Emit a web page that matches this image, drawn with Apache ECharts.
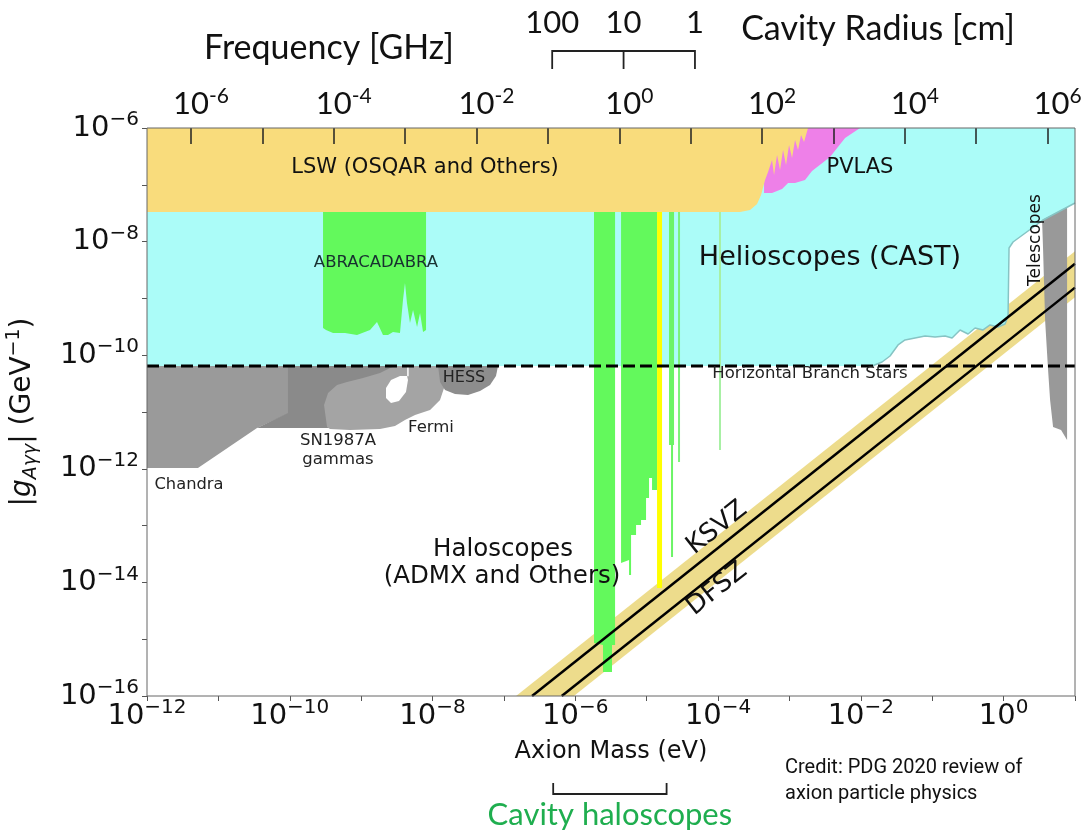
<!DOCTYPE html>
<html><head><meta charset="utf-8">
<script src="https://cdn.jsdelivr.net/npm/echarts@6/dist/echarts.min.js"></script>
<style>html,body{margin:0;padding:0;background:#fff}#c{width:1084px;height:833px}</style>
</head><body><div id="c"></div><script>
// ================= DATA =================
// Axis tick / label values
const massTickValues = [1e-12,1e-11,1e-10,1e-9,1e-8,1e-7,1e-6,1e-5,1e-4,1e-3,1e-2,1e-1,1,10];
const massLabelValues = [1e-12,1e-10,1e-8,1e-6,1e-4,1e-2,1];
const couplingTickValues = [1e-16,1e-15,1e-14,1e-13,1e-12,1e-11,1e-10,1e-9,1e-8,1e-7,1e-6];
const couplingLabelValues = [1e-16,1e-14,1e-12,1e-10,1e-8,1e-6];
const freqTickValues = [1e-6,1e-5,1e-4,1e-3,1e-2,1e-1,1,10,100,1e3,1e4,1e5,1e6];
const freqLabelValues = [1e-6,1e-4,1e-2,1,1e2,1e4,1e6];
const GHZ_PER_EV = 2.418e5;          // photon frequency of 1 eV, in GHz
const RADIUS_TO_GHZ = 11.47;         // TM010 cavity: f[GHz] = 11.47 / r[cm]
const cavityRadiusCm = [100, 10, 1];
const cavityHaloscopeMass = [4.9e-7, 1.9e-5];

// Regions: points as [log10(mass / eV), log10(|g| / GeV^-1)]
const castLimit = [[1,-7.32],[0.553,-7.62],[0.132,-8.007],[0.076,-8.113],[0.062,-9.31],[0.02,-9.451],[-0.078,-9.504],[-0.19,-9.468],[-0.288,-9.556],[-0.4,-9.521],[-0.498,-9.627],[-0.61,-9.556],[-0.722,-9.697],[-0.82,-9.662],[-0.96,-9.68],[-1.1,-9.662],[-1.241,-9.697],[-1.381,-9.732],[-1.479,-9.82],[-1.591,-10.014],[-1.703,-10.12],[-1.843,-10.19],[-12,-10.19]];
const lswLimit = [[-12,-7.479],[-3.692,-7.479],[-3.552,-7.444],[-3.454,-7.338],[-3.398,-7.18],[-3.342,-6.915],[-3.3,-6.775],[-3.244,-6.563],[-3.216,-6.827],[-3.174,-6.475],[-3.132,-6.739],[-3.09,-6.387],[-3.048,-6.651],[-3.006,-6.299],[-2.964,-6.528],[-2.922,-6.211],[-2.88,-6.387],[-2.838,-6.123],[-2.796,-6.246],[-2.74,-6]];
const pvlas = [[-3.356,-6],[-2.011,-6],[-2.221,-6.176],[-2.432,-6.511],[-2.684,-6.757],[-2.782,-6.915],[-2.922,-6.968],[-3.02,-6.968],[-3.104,-7.074],[-3.244,-7.144],[-3.356,-7.144]];
const abracadabra = [[-9.534,-7.27],[-8.091,-7.27],[-8.091,-9.556],[-8.133,-9.592],[-8.175,-9.257],[-8.217,-9.504],[-8.273,-9.204],[-8.316,-9.433],[-8.358,-9.081],[-8.386,-8.729],[-8.414,-9.028],[-8.456,-9.609],[-8.554,-9.592],[-8.624,-9.644],[-8.694,-9.644],[-8.778,-9.415],[-8.876,-9.556],[-9.058,-9.644],[-9.226,-9.609],[-9.394,-9.609],[-9.492,-9.556],[-9.534,-9.521]];
const haloscopeADMX = [[-5.738,-7.27],[-5.443,-7.27],[-5.443,-15.102],[-5.486,-15.102],[-5.486,-15.577],[-5.612,-15.577],[-5.612,-15.102],[-5.738,-15.067]];
const haloscopeWide = [[-5.359,-7.27],[-4.855,-7.27],[-4.855,-12.373],[-4.925,-12.373],[-4.925,-12.162],[-4.967,-12.162],[-4.967,-12.514],[-5.009,-12.514],[-5.009,-12.901],[-5.079,-12.901],[-5.079,-12.989],[-5.149,-12.989],[-5.149,-13.165],[-5.219,-13.165],[-5.219,-13.87],[-5.247,-13.87],[-5.247,-13.606],[-5.359,-13.658]];
const haloscopeNarrowA = [[-4.687,-7.27],[-4.617,-7.27],[-4.617,-11.581],[-4.631,-11.581],[-4.631,-13.553],[-4.659,-13.553],[-4.659,-11.581],[-4.687,-11.581]];
const haloscopeNarrowB = [[-4.561,-7.27],[-4.533,-7.27],[-4.533,-11.88],[-4.561,-11.88]];
const haloscopeThin = [[-3.987,-7.27],[-3.959,-7.27],[-3.959,-11.669],[-3.987,-11.669]];
const haloscopeYellow = [[-4.855,-7.27],[-4.785,-7.27],[-4.785,-14.099],[-4.855,-14.099]];
const chandra = [[-12,-10.19],[-10.0,-10.19],[-10.0,-11.018],[-10.459,-11.282],[-11.286,-11.986],[-12,-11.986]];
const sn1987a = [[-10.025,-10.19],[-8.456,-10.19],[-8.526,-10.437],[-9.436,-11.282],[-10.459,-11.282],[-10.025,-11.018]];
const fermi = [[-9.478,-11.264],[-9.52,-10.877],[-9.464,-10.665],[-9.338,-10.525],[-9.198,-10.472],[-8.974,-10.401],[-8.736,-10.313],[-8.596,-10.225],[-8.526,-10.19],[-7.895,-10.19],[-7.825,-10.525],[-7.895,-10.789],[-8.035,-10.965],[-8.245,-11.053],[-8.386,-11.141],[-8.526,-11.246],[-8.736,-11.299],[-9.156,-11.317],[-9.436,-11.299]];
const fermiGap = [[-8.652,-10.754],[-8.652,-10.577],[-8.582,-10.437],[-8.456,-10.366],[-8.358,-10.366],[-8.344,-10.437],[-8.372,-10.648],[-8.47,-10.806],[-8.582,-10.842]];
const fermiSlit = [[-8.345,-10.19],[-8.345,-10.37]];
const hess = [[-7.923,-10.19],[-7.083,-10.19],[-7.111,-10.366],[-7.195,-10.525],[-7.335,-10.63],[-7.503,-10.701],[-7.685,-10.683],[-7.825,-10.613],[-7.895,-10.472]];
const telescopes = [[0.539,-7.62],[0.889,-7.391],[0.889,-11.493],[0.805,-11.317],[0.693,-11.264],[0.651,-10.789],[0.623,-10.261],[0.581,-9.38],[0.553,-8.148]];
const ksvz = [[-6.606,-16],[1,-8.39]];
const dfsz = [[-6.19,-16],[1,-8.81]];
const qcdBand = [[-6.83,-16],[1,-8.17],[1,-8.98],[-6.02,-16]];
const horizontalBranch = [[-12,-10.19],[1,-10.19]];

// ================= CHART =================
const G = {left: 147, top: 128, width: 928, height: 568};
const toVals = pts => pts.map(p => [Math.pow(10, p[0]), Math.pow(10, p[1])]);
let zc = 2;
function region(pts, color, stroke) {
  const vals = toVals(pts);
  return {
    type: 'custom', coordinateSystem: 'cartesian2d', xAxisIndex: 0, yAxisIndex: 0,
    data: vals, z: zc++, silent: true, animation: false, clip: true,
    renderItem(params, api) {
      if (params.dataIndex !== 0) return null;
      return { type: 'polygon', shape: { points: vals.map(v => api.coord(v)) },
        style: { fill: color, stroke: stroke || null, lineWidth: stroke ? 1 : 0 } };
    }
  };
}
function line(pts, color, width, type) {
  return { type: 'line', xAxisIndex: 0, yAxisIndex: 0, data: toVals(pts), z: zc++, silent: true,
    symbol: 'none', animation: false, clip: true,
    lineStyle: { color, width, type: type || 'solid' } };
}
const sup = minus => v => { const e = Math.round(Math.log10(v)); return '{b|10}{s|' + (e < 0 ? minus : '') + Math.abs(e) + '}'; };
const mplRich = { b: { fontFamily: 'DejaVu Sans', fontSize: 29, color: '#111', lineHeight: 36 },
                  s: { fontFamily: 'DejaVu Sans', fontSize: 20, color: '#111', verticalAlign: 'top', lineHeight: 18 } };

const series = [
  region(qcdBand, '#eddc8c'),
  region([[-12,-6],[1,-6]].concat(castLimit), '#abfcf8'),
  region(abracadabra, '#63f95c'),
  region(haloscopeADMX, '#63f95c'),
  region(haloscopeWide, '#63f95c'),
  region(haloscopeNarrowA, '#6cf466'),
  region(haloscopeNarrowB, '#7cf27a'),
  region(haloscopeThin, '#a8f0a4'),
  region(haloscopeYellow, '#ffff00'),
  region(pvlas, '#ee80e8'),
  region([[-12,-6]].concat(lswLimit), '#f9dc7c'),
  region(chandra, '#9a9a9a'),
  region(sn1987a, '#8a8a8a'),
  region(fermi, '#a4a4a4'),
  region(fermiGap, '#ffffff'),
  line(fermiSlit, '#ffffff', 1.5),
  region(hess, '#8d8d8d'),
  region(telescopes, '#999999'),
  line(castLimit.slice(0, -1), '#86c4c4', 1.5),
  line(horizontalBranch, '#000', 3, [12, 5]),
  line(ksvz, '#000', 2.5),
  line(dfsz, '#000', 2.5)
];

const chart = echarts.init(document.getElementById('c'), null, { renderer: 'canvas', width: 1084, height: 833 });
chart.setOption({
  animation: false,
  backgroundColor: '#ffffff',
  grid: { left: G.left, top: G.top, width: G.width, height: G.height, containLabel: false, outerBoundsMode: 'none' },
  xAxis: [
    { type: 'log', min: 1e-12, max: 10, position: 'bottom',
      axisLine: { show: false }, splitLine: { show: false },
      axisTick: { show: true, customValues: massTickValues, length: 5, lineStyle: { color: '#555', width: 1 } },
      axisLabel: { customValues: massLabelValues, formatter: sup('−'), margin: 2, interval: 0, rich: mplRich },
      name: 'Axion Mass (eV)', nameLocation: 'middle', nameGap: 44,
      nameTextStyle: { fontFamily: 'DejaVu Sans', fontSize: 24, color: '#111' } },
    { type: 'log', min: 1e-12 * GHZ_PER_EV, max: 10 * GHZ_PER_EV, position: 'top', z: 30,
      axisLine: { show: false }, splitLine: { show: false },
      axisTick: { show: true, inside: true, customValues: freqTickValues, length: 16, lineStyle: { color: '#222', width: 1.5 } },
      axisLabel: { customValues: freqLabelValues, formatter: sup('-'), margin: 6, interval: 0, padding: [0, 0, 0, 20],
        rich: { b: { fontFamily: 'Lato', fontSize: 31, color: '#111', lineHeight: 36 },
                s: { fontFamily: 'Lato', fontSize: 21, color: '#111', verticalAlign: 'top', lineHeight: 18 } } } }
  ],
  yAxis: [
    { type: 'log', min: 1e-16, max: 1e-6,
      axisLine: { show: false }, splitLine: { show: false },
      axisTick: { show: true, customValues: couplingTickValues, length: 5, lineStyle: { color: '#555', width: 1 } },
      axisLabel: { customValues: couplingLabelValues, formatter: sup('−'), margin: 8, interval: 0, rich: mplRich },
      name: '{t||}{g|g}{sub|Aγγ}{t|| (GeV}{sup|−1}{t|)}', nameLocation: 'middle', nameRotate: 90, nameGap: 106,
      nameTextStyle: { rich: {
        t: { fontFamily: 'DejaVu Sans', fontSize: 28, color: '#111', lineHeight: 36 },
        g: { fontFamily: 'DejaVu Sans', fontSize: 28, fontStyle: 'italic', color: '#111', lineHeight: 36 },
        sub: { fontFamily: 'DejaVu Sans', fontSize: 19, fontStyle: 'italic', color: '#111', verticalAlign: 'bottom', lineHeight: 21 },
        sup: { fontFamily: 'DejaVu Sans', fontSize: 19, color: '#111', verticalAlign: 'top', lineHeight: 21 } } } }
  ],
  series
});

// ---------- annotations ----------
const xF = f => chart.convertToPixel({ xAxisIndex: 1 }, f);
const xM = m => chart.convertToPixel({ xAxisIndex: 0 }, m);
function txt(text, x, y, size, o) {
  o = o || {};
  return { type: 'text', x, y, rotation: o.rot || 0, z: 100, silent: true,
    style: { text, fontSize: size, fontFamily: o.font || 'DejaVu Sans', fill: o.color || '#111',
      align: o.align || 'center', verticalAlign: 'middle', textAlign: o.align || 'center', textVerticalAlign: 'middle' } };
}
function seg(x1, y1, x2, y2, color, w) {
  return { type: 'line', z: 100, silent: true, shape: { x1, y1, x2, y2 }, style: { stroke: color || '#222', lineWidth: w || 1.8 } };
}
const ang = 38.5 * Math.PI / 180;
const rx = cavityRadiusCm.map(r => xF(RADIUS_TO_GHZ / r));
const hx = cavityHaloscopeMass.map(xM);
const graphics = [
  { type: 'rect', z: 90, silent: true, shape: { x: G.left, y: G.top, width: G.width, height: G.height },
    style: { fill: null, stroke: '#666', lineWidth: 1 } },
  txt('LSW (OSQAR and Others)', 425, 168, 21),
  txt('PVLAS', 860, 168, 21),
  txt('ABRACADABRA', 376, 263, 16.5, { color: '#183030' }),
  txt('Helioscopes (CAST)', 830, 258, 27),
  txt('Horizontal Branch Stars', 810, 374, 16.5, { color: '#222' }),
  txt('HESS', 464, 378, 16, { color: '#222' }),
  txt('Fermi', 431, 428, 16.5, { color: '#222' }),
  txt('SN1987A', 338, 441, 16.5, { color: '#222' }),
  txt('gammas', 338, 460, 16.5, { color: '#222' }),
  txt('Chandra', 189, 485, 16.3, { color: '#222' }),
  txt('Haloscopes', 503, 550, 24.5),
  txt('(ADMX and Others)', 502, 577, 24.5),
  txt('KSVZ', 717, 528, 26, { rot: ang }),
  txt('DFSZ', 717, 589, 26, { rot: ang }),
  txt('Telescopes', 1036, 240, 17, { rot: Math.PI / 2 }),
  txt('Frequency [GHz]', 329, 48, 34, { font: 'Lato' }),
  txt('Cavity Radius [cm]', 878, 29, 34, { font: 'Lato' }),
  seg(rx[0], 51, rx[2], 51),
  txt('Cavity haloscopes', (hx[0] + hx[1]) / 2, 815, 31, { font: 'Lato', color: '#1fae4f' }),
  seg(hx[0], 794, hx[1], 794),
  seg(hx[0], 783, hx[0], 795),
  seg(hx[1], 783, hx[1], 795),
  txt('Credit: PDG 2020 review of', 785, 768, 20, { font: 'Roboto', align: 'left' }),
  txt('axion particle physics', 785, 794, 20, { font: 'Roboto', align: 'left' })
];
cavityRadiusCm.forEach((r, i) => {
  graphics.push(seg(rx[i], 50, rx[i], 69));
  graphics.push(txt(String(r), rx[i], 23, 31, { font: 'Lato' }));
});
chart.setOption({ graphic: graphics });
</script></body></html>
